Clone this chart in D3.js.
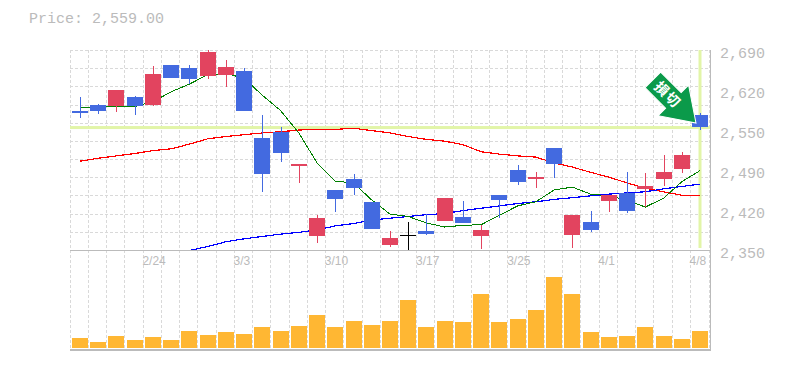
<!DOCTYPE html>
<html>
<head>
<meta charset="utf-8">
<script src="https://d3js.org/d3.v7.min.js"></script>
<style>
  html, body { margin: 0; padding: 0; background: #fff; }
  svg { display: block; }
</style>
</head>
<body>
<div id="chart"></div>
<script>
// dates for each candle
const dates = ["2/18","2/19","2/20","2/21","2/24","2/25","2/26","2/27","2/28","3/3",
  "3/4","3/5","3/6","3/7","3/10","3/11","3/12","3/13","3/14","3/17",
  "3/18","3/19","3/21","3/24","3/25","3/26","3/27","3/28","3/31","4/1",
  "4/2","4/3","4/4","4/7","4/8"];
const dateTicks = ["2/24","3/3","3/10","3/17","3/25","4/1","4/8"];
const priceTicks = [2690, 2620, 2550, 2490, 2420, 2350];

const opens = [2587,2596,2594,2610,2596,2664,2659,2646,2647,2654,
  2540,2551,2493,2374,2452,2471,2432,2358,2375,2382,
  2399,2406,2374,2443,2486,2471,2523,2375,2398,2433,
  2447,2454,2471,2488,2579];
const closes = [2583,2587,2622,2595,2649,2642,2641,2687,2661,2586,
  2479,2515,2496,2404,2437,2455,2386,2370,2375,2377,
  2438,2396,2384,2435,2466,2474,2496,2409,2384,2443,
  2416,2459,2483,2511,2559];
const highs = [2610,2598,2622,2612,2663,2664,2664,2690,2673,2659,
  2579,2559,2496,2409,2452,2479,2432,2382,2398,2411,
  2438,2433,2392,2443,2495,2483,2523,2409,2416,2443,
  2483,2481,2511,2517,2583];
const lows = [2574,2581,2585,2580,2595,2642,2632,2641,2627,2586,
  2449,2500,2464,2362,2415,2443,2386,2355,2350,2375,
  2399,2396,2352,2404,2461,2455,2472,2353,2381,2415,
  2413,2423,2459,2481,2554];

const volumes = [10,6,12,8,11,8,17,13,16,14,21,17,22,33,21,27,23,27,
  48,21,27,26,54,26,29,38,71,54,16,11,12,21,12,9,17];

// moving averages
const maShort = [2592,2594,2594,2594,2602,2619,2632,2648,2650,2642,2613,2587,
  2549,2498,2467,2464,2435,2411,2407,2396,2389,2392,2393,2409,2425,2432,
  2452,2457,2445,2442,2435,2423,2438,2466,2485];
const maMid = [2501,2506,2510,2514,2519,2522,2530,2539,2543,2546,2549,2551,
  2554,2555,2555,2557,2553,2549,2543,2538,2535,2529,2517,2513,2510,2508,
  2498,2491,2482,2474,2464,2455,2449,2443,2443];
const maLong = [null,null,null,null,null,null,2349,2356,2364,2369,2373,2377,
  2380,2384,2391,2395,2401,2404,2407,2410,2412,2417,2421,2425,2429,2432,
  2436,2439,2442,2445,2447,2449,2454,2458,2462];

const lastPrice = 2559;
const arrowLabel = "損切";

const width = 785, height = 370;
const plotLeft = 70.88, plotRight = 709.12, plotTop = 50, priceBottom = 250, volBottom = 350;
const gridLeft = 70, axisRight = 710;
const gridColor = "#d9d9d9", axisColor = "#bbb", textColor = "#bbb";
const upColor = "#e2445f", downColor = "#436ae0", flatColor = "#000";

const svg = d3.select("#chart").append("svg")
  .attr("width", width)
  .attr("height", height);

const x = d3.scaleBand().domain(dates).range([plotLeft, plotRight]);
const y = d3.scaleLinear().domain([2350, 2690]).range([priceBottom, plotTop]);
const yVol = d3.scaleLinear().domain([0, 100]).range([volBottom - 2, volBottom - 102]);
const cx = d => x(d) + x.bandwidth() / 2;
const gridX = d => Math.floor(x(d) - 0.6) + 0.5;

// dashed grid, verticals run through both panels
const grid = svg.append("g")
  .attr("stroke", gridColor)
  .attr("stroke-dasharray", "3,2")
  .attr("shape-rendering", "crispEdges");
grid.selectAll("line.v")
  .data(dates)
  .join("line")
  .attr("class", "v")
  .attr("x1", gridX).attr("x2", gridX)
  .attr("y1", plotTop).attr("y2", volBottom);
grid.append("line")
  .attr("x1", plotRight).attr("x2", plotRight)
  .attr("y1", plotTop).attr("y2", volBottom);
grid.selectAll("line.h")
  .data(d3.range(11))
  .join("line")
  .attr("class", "h")
  .attr("x1", gridLeft).attr("x2", axisRight)
  .attr("y1", i => Math.round(plotTop + i * (priceBottom - plotTop) / 11) + 0.5)
  .attr("y2", i => Math.round(plotTop + i * (priceBottom - plotTop) / 11) + 0.5);

// last price markers
svg.append("rect")
  .attr("x", gridLeft).attr("width", axisRight - gridLeft)
  .attr("y", y(lastPrice) - 1).attr("height", 3)
  .attr("fill", "#e2f5a8");
svg.append("rect")
  .attr("x", cx("4/8") - 1.5).attr("width", 3)
  .attr("y", plotTop).attr("height", priceBottom - plotTop - 2)
  .attr("fill", "#e2f5a8");

// volume bars
svg.append("g").selectAll("rect")
  .data(dates)
  .join("rect")
  .attr("x", d => Math.round(cx(d)) - 8)
  .attr("width", 16)
  .attr("y", (d, i) => yVol(volumes[i]))
  .attr("height", (d, i) => yVol(0) - yVol(volumes[i]))
  .attr("fill", "#ffb733");

// moving average lines, candles sit on top of them
const maLine = d3.line()
  .defined(d => d != null)
  .x((d, i) => cx(dates[i]))
  .y(d => y(d));
[[maMid, "#ff0000", 1.2], [maLong, "#0000ff", 1.2], [maShort, "#008000", 1]].forEach(([vals, color, w]) => {
  svg.append("path")
    .attr("d", maLine(vals))
    .attr("fill", "none")
    .attr("stroke", color)
    .attr("stroke-width", w)
    .attr("shape-rendering", "crispEdges");
});

// candles
const candleColor = i => closes[i] > opens[i] ? upColor : closes[i] < opens[i] ? downColor : flatColor;
const candles = svg.append("g").attr("shape-rendering", "crispEdges");
candles.selectAll("line")
  .data(dates)
  .join("line")
  .attr("x1", d => Math.round(cx(d)) + 0.5).attr("x2", d => Math.round(cx(d)) + 0.5)
  .attr("y1", (d, i) => y(highs[i]))
  .attr("y2", (d, i) => y(lows[i]))
  .attr("stroke", (d, i) => candleColor(i));
candles.selectAll("rect")
  .data(dates)
  .join("rect")
  .attr("x", d => Math.round(cx(d)) - 8)
  .attr("width", 16)
  .attr("y", (d, i) => y(Math.max(opens[i], closes[i])))
  .attr("height", (d, i) => Math.max(1, Math.abs(y(opens[i]) - y(closes[i]))))
  .attr("fill", (d, i) => candleColor(i));

// axes lines
const axes = svg.append("g").attr("stroke", axisColor).attr("shape-rendering", "crispEdges");
axes.append("line").attr("x1", gridLeft).attr("x2", axisRight + 1).attr("y1", priceBottom).attr("y2", priceBottom);
axes.append("line").attr("x1", gridLeft).attr("x2", axisRight + 1).attr("y1", volBottom).attr("y2", volBottom).attr("stroke-width", 2);
axes.append("line").attr("x1", axisRight + 0.5).attr("x2", axisRight + 0.5).attr("y1", plotTop).attr("y2", volBottom);

// tick labels, left aligned just before the candle centre
const xAxis = d3.axisBottom(x).tickValues(dateTicks).tickSize(0).tickPadding(6);
const xg = svg.append("g").attr("transform", `translate(0,${priceBottom})`).call(xAxis);
xg.select(".domain").remove();
xg.selectAll("text")
  .attr("x", -10.5)
  .attr("text-anchor", "start")
  .attr("fill", textColor)
  .attr("font-family", "Liberation Sans")
  .attr("font-size", 12);

svg.append("g").selectAll("text")
  .data(priceTicks)
  .join("text")
  .attr("x", 720)
  .attr("y", (d, i) => plotTop + i * (priceBottom - plotTop) / (priceTicks.length - 1) + 3)
  .attr("dy", "0.3em")
  .attr("fill", textColor)
  .attr("font-family", "Liberation Mono")
  .attr("font-size", 15)
  .text(d => d3.format(",")(d));

svg.append("text")
  .attr("x", 29)
  .attr("y", 23)
  .attr("fill", textColor)
  .attr("font-family", "Liberation Mono")
  .attr("font-size", 15)
  .text("Price: " + d3.format(",.2f")(lastPrice));

// arrow sign, drawn in its own rotated frame pointing at the last close
const tipX = cx("4/8") - 4, tipY = y(lastPrice) - 4;
const arrow = svg.append("g").attr("transform", `translate(${tipX},${tipY}) rotate(45)`);
arrow.append("path")
  .attr("d", d3.line()([[0, 0], [-32, -21.5], [-32, -11], [-61, -11], [-61, 11], [-32, 11], [-32, 21.5]]) + "Z")
  .attr("fill", "#0b9a4a")
  .attr("stroke", "#fff")
  .attr("stroke-width", 1);
arrow.append("text")
  .attr("x", -40)
  .attr("y", 0)
  .attr("dy", "0.36em")
  .attr("text-anchor", "middle")
  .attr("letter-spacing", 1.5)
  .attr("fill", "#fff")
  .attr("font-family", "Noto Sans CJK JP")
  .attr("font-weight", 700)
  .attr("font-size", 14)
  .text(arrowLabel);
</script>
</body>
</html>
